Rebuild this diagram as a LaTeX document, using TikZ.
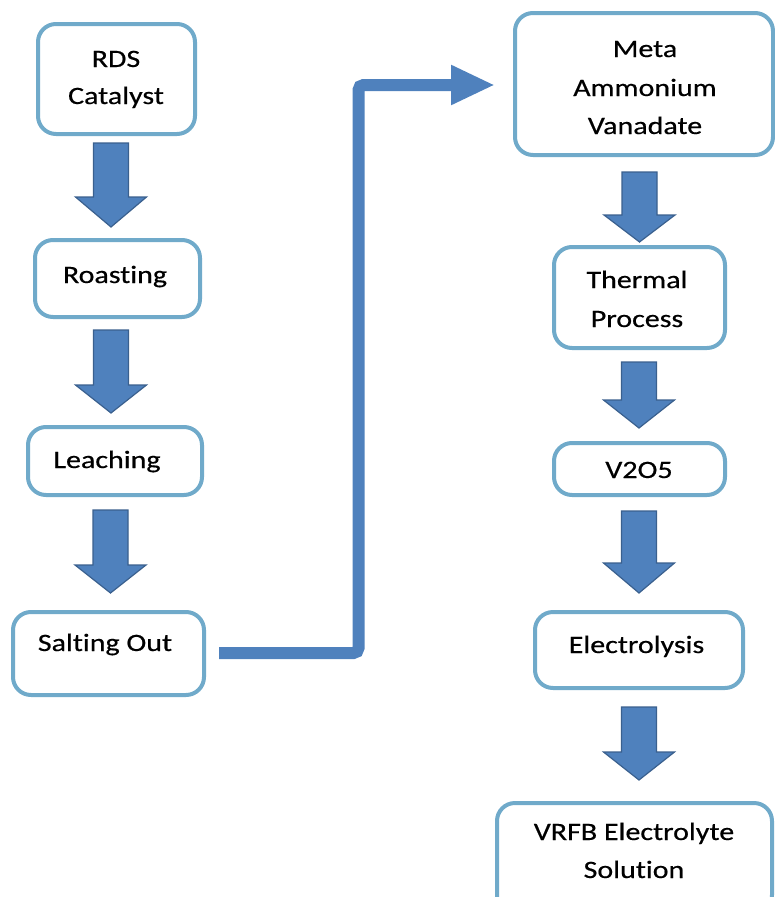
\documentclass[tikz,border=0pt]{standalone}
\usepackage{fontspec}
\setmainfont[FakeStretch=1.2,FakeBold=0.5,Ligatures={NoCommon}]{Carlito}
\usetikzlibrary{arrows.meta,calc}
\definecolor{boxline}{RGB}{112,170,202}
\definecolor{arrfill}{RGB}{79,129,189}
\definecolor{arrline}{RGB}{58,96,142}
\tikzset{
  box/.style={draw=boxline, line width=4pt, fill=white, rounded corners=18pt, inner sep=0pt},
  lbl/.style={anchor=base, inner sep=0pt, font=\fontsize{25}{30}\selectfont, text=black},
  blockarr/.style={fill=arrfill, draw=arrline, line width=1.2pt, line join=miter},
  conn/.style={draw=arrfill, line width=12pt, rounded corners=5pt,
    -{Triangle[length=44pt,width=37pt]}},
}
% #1 centre x, #2 top y, #3 head y, #4 tip y
\newcommand{\blockarrow}[4]{%
  \draw[blockarr] (#1-17.5,#2) -- (#1+17.5,#2) -- (#1+17.5,#3) -- (#1+35.5,#3)
    -- (#1,#4) -- (#1-35.5,#3) -- (#1-17.5,#3) -- cycle;}
\begin{document}
\begin{tikzpicture}[x=1pt,y=-1pt]
\useasboundingbox (0,0) rectangle (775,897);
% boxes
\node[box, minimum width=157pt, minimum height=110pt] (rds) at (116.5,79) {};
\node[box, minimum width=165pt, minimum height=77pt] (roast) at (117.5,278.5) {};
\node[box, minimum width=174pt, minimum height=68pt] (leach) at (115,461) {};
\node[box, minimum width=191pt, minimum height=83pt] (salt) at (108.5,653.5) {};
\node[box, minimum width=258pt, minimum height=142pt] (meta) at (644,84) {};
\node[box, minimum width=171pt, minimum height=101pt] (therm) at (639.5,297.5) {};
\node[box, minimum width=171pt, minimum height=52pt] (vox) at (639.5,469) {};
\node[box, minimum width=208pt, minimum height=76pt] (elec) at (639,650) {};
\node[box, minimum width=275pt, minimum height=110pt] (vrfb) at (634.5,858) {};
% labels
\node[lbl] (t1a) at (116,67) {RDS};
\node[lbl] (t1b) at (116,104) {Catalyst};
\node[lbl] (t2) at (115,283) {Roasting};
\node[lbl] (t3) at (107,468) {Leaching};
\node[lbl] (t4) at (105,651) {Salting Out};
\node[lbl] (t5a) at (645,57) {Meta};
\node[lbl] (t5b) at (645,96) {Ammonium};
\node[lbl] (t5c) at (645,134) {Vanadate};
\node[lbl] (t6a) at (637,288) {Thermal};
\node[lbl] (t6b) at (637,327) {Process};
\node[lbl] (t7) at (639,478) {V2O5};
\node[lbl] (t8) at (636.5,653) {Electrolysis};
\node[lbl] (t9a) at (634,840) {VRFB Electrolyte};
\node[lbl] (t9b) at (634,878) {Solution};
% block arrows
\blockarrow{111}{143}{197}{227}
\blockarrow{111}{330}{385}{413}
\blockarrow{110.5}{510}{565}{593}
\blockarrow{639.5}{172}{215}{242}
\blockarrow{639}{362}{400}{428}
\blockarrow{639}{511}{563}{593}
\blockarrow{639}{707}{752}{780}
% connector
\coordinate (cs) at ($(salt.east)+(13,-0.5)$);
\coordinate (ce) at ($(meta.west)+(-18,1)$);
\draw[conn] (cs) -- (358.5,653) -- (358.5,85) -- (ce);
\end{tikzpicture}
\end{document}
